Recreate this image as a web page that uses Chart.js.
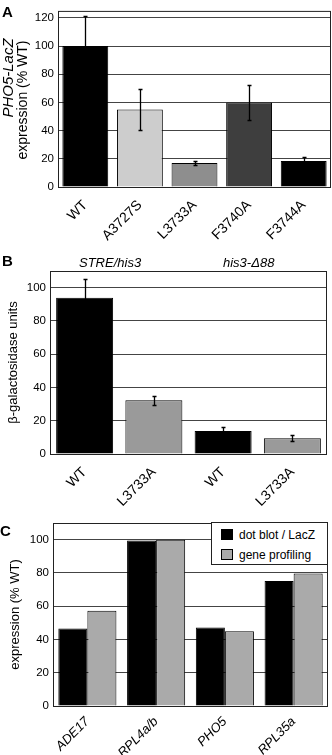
<!DOCTYPE html>
<html>
<head>
<meta charset="utf-8">
<script src="https://cdn.jsdelivr.net/npm/chart.js@4.4.1/dist/chart.umd.min.js"></script>
<style>
  body { margin: 0; background: #fff; }
  #page { position: relative; width: 332px; height: 755px; overflow: hidden;
          font-family: 'Liberation Sans', Arial, Helvetica, sans-serif; color: #000; }
  .panel { position: absolute; left: 0; width: 332px; }
  .letter { position: absolute; font-weight: bold; font-size: 15px; line-height: 15px; }
  .vtitle { position: absolute; white-space: nowrap; font-size: 14px; line-height: 14px;
            transform: translate(-50%, -50%) rotate(-90deg); }
  .group { position: absolute; font-style: italic; font-size: 13px; line-height: 13px; white-space: nowrap; }
  #legendC { position: absolute; left: 211px; top: 522px; width: 115px; height: 41px;
             background: #fff; border: 1px solid #222; font-size: 12px; }
  #legendC div { position: absolute; left: 9px; white-space: nowrap; line-height: 12px; }
  #legendC span { display: inline-block; width: 10px; height: 9px; border: 1px solid #000;
                  vertical-align: -1px; margin-right: 6px; }
</style>
</head>
<body>
<div id="page">
  <div class="panel" style="top:0;height:250px"><canvas id="chartA"></canvas></div>
  <div class="panel" style="top:250px;height:265px"><canvas id="chartB"></canvas></div>
  <div class="panel" style="top:505px;height:270px"><canvas id="chartC"></canvas></div>

  <div class="letter" style="left:2px;top:4px">A</div>
  <div class="letter" style="left:2px;top:253px">B</div>
  <div class="letter" style="left:0px;top:523px">C</div>

  <div class="vtitle" style="left:8px;top:78px;font-style:italic;font-size:15px">PHO5-LacZ</div>
  <div class="vtitle" style="left:22px;top:100px">expression (% WT)</div>

  <div id="groupB1" class="group" style="left:79px;top:256px"></div>
  <div id="groupB2" class="group" style="left:223px;top:256px"></div>

  <div id="legendC"></div>
</div>

<script>
// panel A: PHO5-LacZ reporter, % of WT
const mutantLabels = ['WT', 'A3727S', 'L3733A', 'F3740A', 'F3744A'];
const pho5Values = [100, 55, 17, 60, 18.5];
const pho5ErrLow = [79, 40.5, 15.3, 47.8, 16.2];
const pho5ErrHigh = [121.3, 69.9, 18.7, 72.2, 21.2];

// panel B: beta-galactosidase units
const groupLabels = ['STRE/his3', 'his3-\u039488'];
const reporterLabels = ['WT', 'L3733A', 'WT', 'L3733A'];
const betaGalValues = [93.9, 32.3, 13.9, 9.4];
const betaGalErrLow = [82.7, 29.3, 11.5, 7.8];
const betaGalErrHigh = [105, 34.9, 16.3, 11.2];

// panel C: dot blot vs gene profiling
const geneLabels = ['ADE17', 'RPL4a/b', 'PHO5', 'RPL35a'];
const seriesNames = ['dot blot / LacZ', 'gene profiling'];
const dotBlotValues = [46.6, 99.5, 47.2, 75.2];
const profilingValues = [57.2, 100, 45, 79.6];

const fontFam = "'Liberation Sans', Arial, Helvetica, sans-serif";
Chart.defaults.font.family = fontFam;
Chart.defaults.color = '#000';

// box round the plot area
const plotBox = {
  id: 'plotBox',
  beforeDatasetsDraw(chart) {
    const a = chart.chartArea, ctx = chart.ctx;
    ctx.save();
    ctx.strokeStyle = '#222';
    ctx.lineWidth = 1;
    ctx.strokeRect(a.left + 0.5, a.top + 0.5, a.right - a.left - 1, a.bottom - a.top);
    ctx.restore();
  }
};

// simple error bars drawn on dataset 0
const errorBars = {
  id: 'errorBars',
  afterDatasetsDraw(chart, args, opts) {
    if (!opts.low) return;
    const ctx = chart.ctx;
    const yScale = chart.scales.y;
    const meta = chart.getDatasetMeta(0);
    ctx.save();
    ctx.strokeStyle = '#000';
    ctx.lineWidth = 1.3;
    meta.data.forEach((bar, i) => {
      const x = Math.round(bar.x) + 0.5;
      const top = Math.round(yScale.getPixelForValue(opts.high[i])) + 0.5;
      const bot = Math.round(yScale.getPixelForValue(opts.low[i])) + 0.5;
      ctx.beginPath();
      ctx.moveTo(x, top); ctx.lineTo(x, bot);
      ctx.moveTo(x - 2, top); ctx.lineTo(x + 2, top);
      ctx.moveTo(x - 2, bot); ctx.lineTo(x + 2, bot);
      ctx.stroke();
    });
    ctx.restore();
  }
};

Chart.register(plotBox, errorBars);

// xHeight is taller than the visible gap so rotated labels are not clipped
function baseOptions(p) {
  return {
    responsive: true,
    maintainAspectRatio: false,
    animation: false,
    layout: { padding: { top: p.top, right: p.right, left: 0, bottom: 0 } },
    plugins: {
      legend: { display: false },
      tooltip: { enabled: false },
      errorBars: p.err || {}
    },
    scales: {
      x: {
        grid: { display: false },
        border: { display: false },
        ticks: {
          maxRotation: 45, minRotation: 45, padding: p.xPad,
          font: { size: p.xSize, style: p.italicX ? 'italic' : 'normal' }, color: '#000'
        },
        afterFit: s => { s.height = p.xHeight; }
      },
      y: {
        min: 0, max: p.max,
        grid: { color: '#444', lineWidth: 1, drawTicks: false },
        border: { display: false },
        ticks: { stepSize: 20, includeBounds: false, padding: 4, font: { size: 11.5 }, color: '#000' },
        title: p.title ? {
          display: true, text: p.title, font: { size: 13 }, color: '#000',
          padding: { top: p.titlePad, bottom: 0 }
        } : { display: false },
        afterFit: s => { s.width = p.yWidth; }
      }
    }
  };
}

new Chart(document.getElementById('chartA'), {
  type: 'bar',
  data: {
    labels: mutantLabels,
    datasets: [{
      data: pho5Values,
      backgroundColor: ['#000000', '#cdcdcd', '#8e8e8e', '#3e3e3e', '#000000'],
      borderColor: '#000', borderWidth: 1,
      barPercentage: 0.84, categoryPercentage: 1
    }]
  },
  options: baseOptions({ top: 4, right: 1, xHeight: 63, yWidth: 58, max: 125,
                         xSize: 14, xPad: 2,
                         err: { low: pho5ErrLow, high: pho5ErrHigh } })
});

new Chart(document.getElementById('chartB'), {
  type: 'bar',
  data: {
    labels: reporterLabels,
    datasets: [{
      data: betaGalValues,
      backgroundColor: ['#000000', '#9a9a9a', '#000000', '#9a9a9a'],
      borderColor: '#000', borderWidth: 1,
      barPercentage: 0.823, categoryPercentage: 1
    }]
  },
  options: baseOptions({ top: 21, right: 5, xHeight: 61, yWidth: 50, max: 110,
                         xSize: 14, xPad: 2,
                         title: '\u03b2-galactosidase units', titlePad: 6,
                         err: { low: betaGalErrLow, high: betaGalErrHigh } })
});

new Chart(document.getElementById('chartC'), {
  type: 'bar',
  data: {
    labels: geneLabels,
    datasets: [
      { label: seriesNames[0], data: dotBlotValues, backgroundColor: '#000000',
        borderColor: '#000', borderWidth: 1, barPercentage: 1, categoryPercentage: 0.845 },
      { label: seriesNames[1], data: profilingValues, backgroundColor: '#aaaaaa',
        borderColor: '#000', borderWidth: 1, barPercentage: 1, categoryPercentage: 0.845 }
    ]
  },
  options: baseOptions({ top: 18, right: 4, xHeight: 69, yWidth: 53, max: 110,
                         xSize: 13, xPad: 0, italicX: true,
                         title: 'expression (% WT)', titlePad: 8 })
});

// group headers for panel B
document.getElementById('groupB1').textContent = groupLabels[0];
document.getElementById('groupB2').textContent = groupLabels[1];

// legend for panel C
const swatches = ['#000000', '#aaaaaa'];
const legendC = document.getElementById('legendC');
seriesNames.forEach((name, i) => {
  const row = document.createElement('div');
  row.style.top = (6 + i * 20) + 'px';
  row.innerHTML = '<span style="background:' + swatches[i] + '"></span>' + name;
  legendC.appendChild(row);
});
</script>
</body>
</html>
